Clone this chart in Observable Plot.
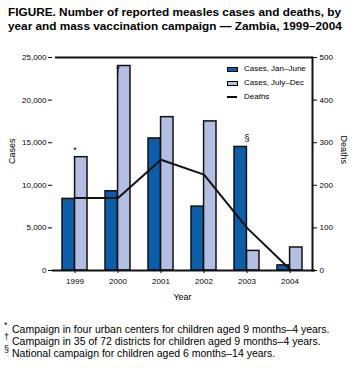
<!DOCTYPE html>
<html>
<head>
<meta charset="utf-8">
<script src="https://cdn.jsdelivr.net/npm/d3@7"></script>
<script src="https://cdn.jsdelivr.net/npm/@observablehq/plot@0.6"></script>
<style>
  html, body { margin: 0; padding: 0; background: #fff; }
  body { width: 361px; height: 368px; position: relative; overflow: hidden; font-family: "Liberation Sans", Arial, sans-serif; color: #000; }
  #title { position: absolute; left: 8px; top: 5px; font-weight: bold; font-size: 11.8px; line-height: 14px; white-space: nowrap; }
  #chart { position: absolute; left: 0; top: 35px; }
  #legend { position: absolute; left: 227px; top: 62px; font-size: 8px; }
  #legend .row { position: relative; height: 14px; line-height: 14px; padding-left: 17px; white-space: nowrap; }
  #legend .sw { position: absolute; left: 0; top: 5px; width: 9px; height: 3px; border: 1px solid #000; }
  #legend .ln { position: absolute; left: 0; top: 6px; width: 10px; height: 2px; background: #000; }
  #notes { position: absolute; left: 0; top: 323px; font-size: 10.5px; line-height: 12px; }
  #notes .n { position: relative; padding-left: 12px; white-space: nowrap; }
  #notes .s { position: absolute; left: 4px; top: -4px; font-size: 9px; }
</style>
</head>
<body>
<div id="title">FIGURE. Number of reported measles cases and deaths, by<br>year and mass vaccination campaign — Zambia, 1999–2004</div>
<div id="chart"></div>
<div id="legend"></div>
<div id="notes"></div>
<script>
const years = ["1999", "2000", "2001", "2002", "2003", "2004"];
const casesJanJune = [8400, 9300, 15500, 7500, 14500, 600];
const casesJulyDec = [13300, 24000, 18000, 17500, 2300, 2700];
const deaths = [170, 170, 260, 225, 100, 3];
const casesTicks = [0, 5000, 10000, 15000, 20000, 25000];
const deathTicks = [0, 100, 200, 300, 400, 500];
const noteSymbols = ["*", "†", "", "", "§", ""];
const noteY = [14100, 23500, null, null, 15500, null];
const seriesNames = ["Cases, Jan–June", "Cases, July–Dec", "Deaths"];
const footnoteSymbols = ["*", "†", "§"];
const footnotes = [
  "Campaign in four urban centers for children aged 9 months–4 years.",
  "Campaign in 35 of 72 districts for children aged 9 months–4 years.",
  "National campaign for children aged 6 months–14 years."
];

const darkBlue = "#0c5ea8";
const lightBlue = "#b3bfe2";
const deathScale = casesTicks[casesTicks.length - 1] / deathTicks[deathTicks.length - 1];

const data = years.map((y, i) => ({
  year: y, jan: casesJanJune[i], jul: casesJulyDec[i], deaths: deaths[i],
  note: noteSymbols[i], noteY: noteY[i]
}));

const W = 361, H = 280, ML = 52, MR = 49, MT = 22, MB = 45;
const pInner = 0.42, pOuter = 0.21;
const step = (W - ML - MR) / (years.length - pInner + 2 * pOuter);
const half = step * (1 - pInner) / 2;

const fontStyle = {fontFamily: "Liberation Sans, Arial, sans-serif", fontSize: 8};

const chart = Plot.plot({
  width: W, height: H,
  marginLeft: ML, marginRight: MR, marginTop: MT, marginBottom: MB,
  style: {fontFamily: "Liberation Sans, Arial, sans-serif", fontSize: "8px", background: "#fff", overflow: "visible"},
  x: {domain: years, paddingInner: pInner, paddingOuter: pOuter, align: 0.5},
  y: {domain: [0, casesTicks[casesTicks.length - 1]]},
  marks: [
    Plot.barY(data, {x: "year", y: "jan", fill: darkBlue, stroke: "#111", strokeWidth: 1.5, insetRight: half}),
    Plot.barY(data, {x: "year", y: "jul", fill: lightBlue, stroke: "#111", strokeWidth: 1.5, insetLeft: half}),
    Plot.lineY(data, {x: "year", y: d => d.deaths * deathScale, stroke: "#111", strokeWidth: 2}),
    Plot.text(data.filter(d => d.note), {x: "year", y: "noteY", text: "note", fontSize: 9, fill: "#000"}),
    Plot.ruleY([0], {stroke: "#111", strokeWidth: 2, insetRight: -3}),
    Plot.ruleY([casesTicks[casesTicks.length - 1]], {stroke: "#111", strokeWidth: 2, insetLeft: 3}),
    Plot.frame({anchor: "right", stroke: "#111", strokeWidth: 2}),
    Plot.axisY(casesTicks, {anchor: "left", tickSize: 4, tickPadding: 2, tickFormat: d3.format(","), label: null, ...fontStyle}),
    Plot.axisY(casesTicks, {anchor: "right", tickSize: 4, tickPadding: 3, tickFormat: d => deathTicks[casesTicks.indexOf(d)], label: null, ...fontStyle}),
    Plot.axisX({tickSize: 3, tickPadding: 5, label: null, ...fontStyle}),
    Plot.text(["Year"], {frameAnchor: "bottom", dy: 29, fontSize: 9}),
    Plot.text(["Cases"], {frameAnchor: "left", rotate: -90, dx: -40, fontSize: 9}),
    Plot.text(["Deaths"], {frameAnchor: "right", rotate: 90, dx: 31, fontSize: 9})
  ]
});
document.getElementById("chart").appendChild(chart);

const legend = document.getElementById("legend");
const swatches = [
  `<span class="sw" style="background:${darkBlue}"></span>`,
  `<span class="sw" style="background:${lightBlue}"></span>`,
  `<span class="ln"></span>`
];
seriesNames.forEach((name, i) => {
  const row = document.createElement("div");
  row.className = "row";
  row.innerHTML = swatches[i] + name;
  legend.appendChild(row);
});

const notes = document.getElementById("notes");
footnotes.forEach((t, i) => {
  const row = document.createElement("div");
  row.className = "n";
  row.innerHTML = `<span class="s">${footnoteSymbols[i]}</span>` + t;
  notes.appendChild(row);
});
</script>
</body>
</html>
